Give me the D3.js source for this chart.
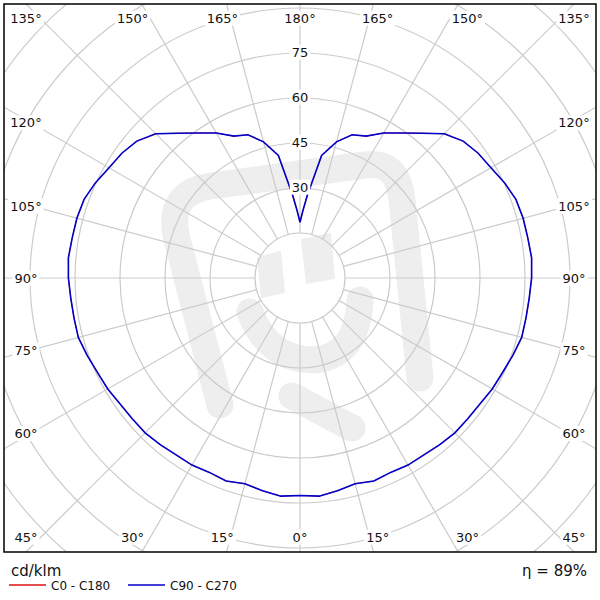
<!DOCTYPE html>
<html>
<head>
<meta charset="utf-8">
<script src="https://cdn.jsdelivr.net/npm/d3@7"></script>
<style>
  body { margin: 0; background: #fff; }
  text { font-family: "DejaVu Sans", Verdana, sans-serif; fill: #111; }
</style>
</head>
<body>
<div id="chart"></div>
<script>
// gamma angles (deg, 0 = straight down) and intensities in cd/klm
const gammas = [0, 5, 10, 15, 20, 25, 30, 35, 40, 45, 50, 55, 60, 65, 70, 75, 80, 85, 90,
  95, 100, 105, 110, 115, 120, 125, 130, 135, 140, 145, 150, 155, 160, 165, 170, 172.5, 175, 177.5, 180];
const c0c180 = [72.5, 73, 72, 71, 72, 71.5, 72, 72, 72.5, 73, 73, 73.2, 74, 74.5, 75.5, 76.5, 76.5, 76.7, 77.2,
  77.5, 77.1, 77, 76.6, 75.2, 73.5, 72.5, 71, 68, 63, 59, 55.8, 52.2, 50.8, 47, 41.5, 33, 27.5, 22.5, 18.6];
const c90c270 = [72.5, 73, 72, 71, 72, 71.5, 72, 72, 72.5, 73, 73, 73.2, 74, 74.5, 75.5, 76.5, 76.5, 76.7, 77.2,
  77.5, 77.1, 77, 76.6, 75.2, 73.5, 72.5, 71, 68, 63, 59, 55.8, 52.2, 50.8, 47, 41.5, 33, 27.5, 22.5, 18.6];

const ringValues = [15, 30, 45, 60, 75, 90, 105, 120, 135];
const ringLabels = [30, 45, 60, 75];
const spokeAngles = [0, 15, 30, 45, 60, 75, 90, 105, 120, 135, 150, 165, 180];

// red sits under the blue curve (same values), so keep it thinner
const series = [
  { name: "C0 - C180", values: c0c180, color: "#e01010", width: 0.8 },
  { name: "C90 - C270", values: c90c270, color: "#0000c8", width: 1.6 }
];
const efficiency = "η = 89%";
const unitLabel = "cd/klm";

const width = 600, height = 600;
const box = { x0: 4, y0: 4, x1: 596, y1: 552 };
const cx = (box.x0 + box.x1) / 2;
const cy = (box.y0 + box.y1) / 2;

const r = d3.scaleLinear().domain([0, 15]).range([0, 45]);
const rad = d => d * Math.PI / 180;

const svg = d3.select("#chart").append("svg")
  .attr("width", width)
  .attr("height", height);

svg.append("clipPath").attr("id", "boxclip")
  .append("rect")
  .attr("x", box.x0).attr("y", box.y0)
  .attr("width", box.x1 - box.x0).attr("height", box.y1 - box.y0);

const plot = svg.append("g").attr("clip-path", "url(#boxclip)");

// faint logo watermark behind the grid
const mark = plot.append("g")
  .attr("fill", "none")
  .attr("stroke", "#eeeeee")
  .attr("stroke-linecap", "round")
  .attr("stroke-linejoin", "round");
mark.append("path").attr("stroke-width", 27)
  .attr("d", "M220,405 L176,235 Q168,192 211,186 L365,165 Q398,160 402,200 L420,378");
mark.append("path").attr("stroke-width", 27)
  .attr("d", "M250,312 Q268,360 315,360 Q358,355 360,300");
mark.append("path").attr("stroke-width", 27)
  .attr("d", "M292,396 L352,428");
mark.append("path").attr("fill", "#eeeeee").attr("stroke-width", 2)
  .attr("d", "M258,258 L280,252 L284,292 L262,297 Z");
mark.append("path").attr("fill", "#eeeeee").attr("stroke-width", 2)
  .attr("d", "M302,240 L330,234 L334,278 L307,283 Z");

// grid circles
const grid = plot.append("g")
  .attr("fill", "none")
  .attr("stroke", "#cbcbcb")
  .attr("stroke-width", 1.2);

grid.selectAll("circle")
  .data(ringValues)
  .join("circle")
  .attr("cx", cx).attr("cy", cy)
  .attr("r", d => r(d));

// spokes every 15 degrees on both halves
const spokeData = [];
spokeAngles.forEach(g => {
  spokeData.push({ g, s: -1 });
  if (g !== 0 && g !== 180) spokeData.push({ g, s: 1 });
});
const rOuter = r(150);
grid.selectAll("line")
  .data(spokeData)
  .join("line")
  .attr("x1", d => cx + d.s * r(15) * Math.sin(rad(d.g)) * (d.g % 180 === 0 ? 0 : 1))
  .attr("y1", d => cy + r(15) * Math.cos(rad(d.g)))
  .attr("x2", d => cx + d.s * rOuter * Math.sin(rad(d.g)) * (d.g % 180 === 0 ? 0 : 1))
  .attr("y2", d => cy + rOuter * Math.cos(rad(d.g)));

// intensity curves
const line = d3.lineRadial()
  .angle(d => d[0])
  .radius(d => r(d[1]));

series.forEach(sr => {
  const pts = [];
  for (let i = gammas.length - 1; i >= 0; i--) pts.push([Math.PI + rad(gammas[i]), sr.values[i]]);
  for (let i = 0; i < gammas.length; i++) pts.push([Math.PI - rad(gammas[i]), sr.values[i]]);
  plot.append("path")
    .datum(pts)
    .attr("transform", `translate(${cx},${cy})`)
    .attr("fill", "none")
    .attr("stroke", sr.color)
    .attr("stroke-width", sr.width)
    .attr("d", line);
});

// label helper with white backing
function labelWithBg(parent, x, y, txt, size) {
  const g = parent.append("g");
  const rect = g.append("rect").attr("fill", "#fff");
  const t = g.append("text")
    .attr("x", x).attr("y", y)
    .attr("dy", "0.36em")
    .attr("text-anchor", "middle")
    .style("font-size", size + "px")
    .text(txt);
  const bb = t.node().getBBox();
  rect.attr("x", bb.x - 2).attr("y", bb.y)
    .attr("width", bb.width + 4).attr("height", bb.height);
}

const labels = svg.append("g");

// intensity ring labels along the upward axis
ringLabels.forEach(v => labelWithBg(labels, cx, cy - r(v) - 1, v, 13));

// angle labels around the frame
const halfW = cx - 26;
spokeData.forEach(d => {
  const g = d.g;
  let x, y;
  if (g <= 45 || g >= 135) {
    y = g <= 45 ? 537 : 18;
    const off = Math.min(290 * Math.abs(Math.tan(rad(g))), halfW);
    x = cx + (g % 180 === 0 ? 0 : d.s * off);
  } else {
    x = cx + d.s * halfW;
    y = cy - 269 * Math.tan(rad(g - 90));
  }
  labelWithBg(labels, x, y, g + "°", 13);
});

// frame
svg.append("rect")
  .attr("x", box.x0).attr("y", box.y0)
  .attr("width", box.x1 - box.x0).attr("height", box.y1 - box.y0)
  .attr("fill", "none")
  .attr("stroke", "#000")
  .attr("stroke-width", 1.5);

// footer
svg.append("text")
  .attr("x", 11).attr("y", 576)
  .style("font-size", "15px")
  .text(unitLabel);

svg.append("text")
  .attr("x", 587).attr("y", 576)
  .attr("text-anchor", "end")
  .style("font-size", "15px")
  .text(efficiency);

const legend = svg.append("g");
const legendX = [9, 128];
series.forEach((sr, i) => {
  legend.append("line")
    .attr("x1", legendX[i]).attr("x2", legendX[i] + 37)
    .attr("y1", 585).attr("y2", 585)
    .attr("stroke", sr.color)
    .attr("stroke-width", 1.5);
  legend.append("text")
    .attr("x", legendX[i] + 42).attr("y", 590)
    .style("font-size", "12px")
    .text(sr.name);
});
</script>
</body>
</html>
